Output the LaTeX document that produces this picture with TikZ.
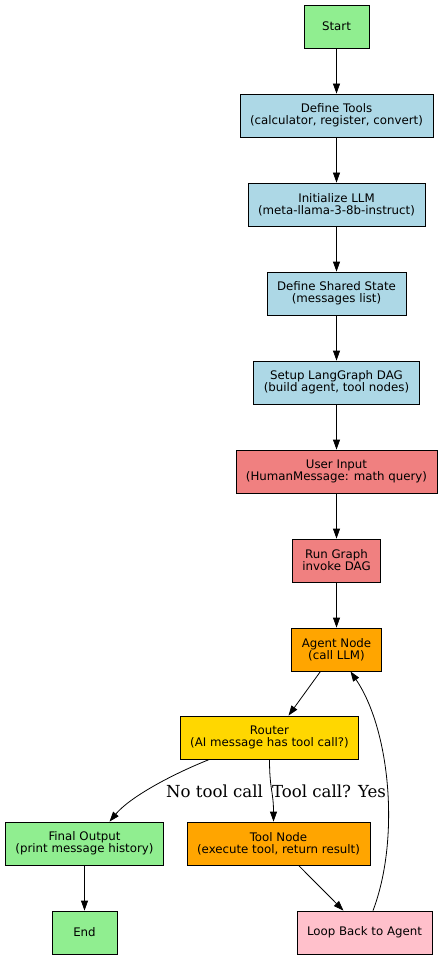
\documentclass[tikz,border=0pt]{standalone}
\usepackage{fontspec}
\usepackage{tikz}
\usetikzlibrary{arrows.meta}
\newfontfamily\boxfont{DejaVu Sans}
\newfontfamily\labelfont{DejaVu Serif}
\definecolor{lgreen}{HTML}{90EE90}
\definecolor{lblue}{HTML}{ADD8E6}
\definecolor{lcoral}{HTML}{F08080}
\definecolor{orng}{HTML}{FFA500}
\definecolor{gld}{HTML}{FFD700}
\definecolor{pnk}{HTML}{FFC0CB}

\begin{document}
\begin{tikzpicture}[x=1pt, y=-1pt,
        box/.style = {draw, line width=0.8pt, align=center, font={\boxfont\fontsize{11.8}{12}\selectfont},
                      minimum width=65pt, minimum height=43pt, inner xsep=10pt},
        flow/.style = {-{Triangle[length=10pt,width=7pt]}, line width=0.8pt},
        elabel/.style = {font={\labelfont\fontsize{16.6}{18}\selectfont}}]
        \useasboundingbox (0,0) rectangle (442,960);

        \node[box, fill=lgreen] (start) at (336.5, 26.5) {Start};
        \node[box, fill=lblue] (tools) at (336.5, 115.5) {Define Tools\\(calculator, register, convert)};
        \node[box, fill=lblue] (llm) at (336.5, 204.5) {Initialize LLM\\(meta-llama-3-8b-instruct)};
        \node[box, fill=lblue] (state) at (336.5, 293.5) {Define Shared State\\(messages list)};
        \node[box, fill=lblue] (dag) at (336.5, 382.5) {Setup LangGraph DAG\\(build agent, tool nodes)};
        \node[box, fill=lcoral] (input) at (336.5, 471.5) {User Input\\(HumanMessage: math query)};
        \node[box, fill=lcoral] (run) at (336.5, 560.5) {Run Graph\\invoke DAG};
        \node[box, fill=orng] (agent) at (336.5, 649.5) {Agent Node\\(call LLM)};
        \node[box, fill=gld] (router) at (269.5, 737.5) {Router\\(AI message has tool call?)};
        \node[box, fill=lgreen] (final) at (84.5, 843.5) {Final Output\\(print message history)};
        \node[box, fill=orng] (toolnode) at (278.5, 843.5) {Tool Node\\(execute tool, return result)};
        \node[box, fill=lgreen] (finish) at (84.5, 932.5) {End};
        \node[box, fill=pnk] (loop) at (364.5, 932.5) {Loop Back to Agent};

        \node[elabel] (nocall) at (214.5, 791) {No tool call};
        \node[elabel] (yescall) at (329, 791) {Tool call? Yes};

        \draw[flow] (start) -- (tools);
        \draw[flow] (tools) -- (llm);
        \draw[flow] (llm) -- (state);
        \draw[flow] (state) -- (dag);
        \draw[flow] (dag) -- (input);
        \draw[flow] (input) -- (run);
        \draw[flow] (run) -- (agent);
        \draw[flow] ([xshift=-16pt]agent.south) -- ([xshift=19pt]router.north);
        \draw[flow] ([xshift=-60pt]router.south) .. controls +(-40,16) and +(20,-24) .. ([xshift=25pt]final.north);
        \draw[flow] (router.south) .. controls +(0,30) and +(0,-30) .. ([xshift=-5pt]toolnode.north);
        \draw[flow] ([xshift=20pt]toolnode.south) -- ([xshift=-21pt]loop.north);
        \draw[flow] (final) -- (finish);
        \draw[flow] ([xshift=8.5pt]loop.north) .. controls +(27,-71) and +(40,59) .. ([xshift=14pt]agent.south);
    \end{tikzpicture}
\end{document}
